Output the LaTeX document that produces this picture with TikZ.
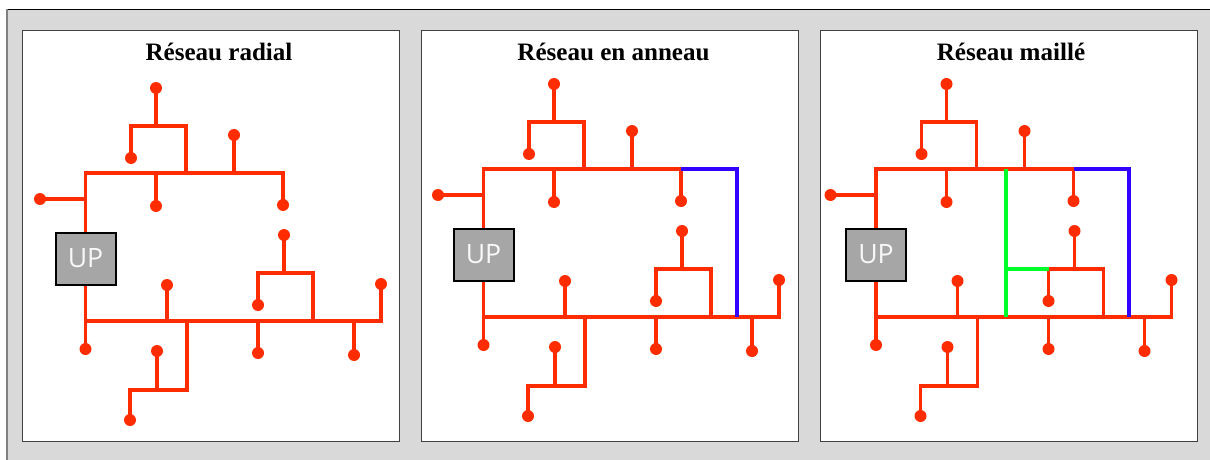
\documentclass[tikz,border=0pt]{standalone}
\usepackage{fontspec}
\setmainfont{Liberation Serif}
\newfontfamily\upfont{Open Sans}
\definecolor{rouge}{HTML}{FF2C00}
\definecolor{bleu}{HTML}{3300FF}
\definecolor{vert}{HTML}{00FF2A}
\definecolor{fond}{HTML}{D9D9D9}
\definecolor{boite}{HTML}{A6A6A6}
\begin{document}
\begin{tikzpicture}[
	x=.75pt,y=-.75pt,
	ligne/.style={draw=rouge,line width=2.4pt},
	secours/.style={draw=bleu,line width=2.4pt},
	maille/.style={draw=vert,line width=2.4pt},
	charge/.style={circle,fill=rouge,inner sep=0pt,outer sep=-1pt,minimum size=9pt},
	titre/.style={font=\bfseries\fontsize{18.8}{20}\selectfont,inner sep=0pt},
	up/.style={draw=black,line width=1.5pt,fill=boite,text=white!92!boite,minimum width=45pt,minimum height=39pt,inner sep=0pt,font=\upfont\fontsize{20}{24}\selectfont},
	cadre/.style={draw=black!75,line width=.6pt,fill=white}]
\useasboundingbox (0,0) rectangle (1210,460);
\fill[fond] (7,9) rectangle (1210,460);
\draw[black,line width=.7pt] (7,9) -- (1210,9);
\draw[black!50,line width=.9pt] (7,9) -- (7,460);
\foreach \n/\px/\dx/\dy/\tx/\texte in {
	a/22/0/0/219/Réseau radial,
	b/421/398/-4/613.5/Réseau en anneau,
	c/820/790.5/-4/1011/Réseau maillé}{
	\draw[cadre] (\px,30) rectangle ++(377,411);
	\node[titre] (\n-titre) at (\tx,52) {\texte};
	\begin{scope}[shift={(\dx,\dy)},name prefix=\n-]
		\node[up] (up) at (85.5,258.5) {UP};
		% jonctions
		\coordinate (h0) at (85.5,173);
		\coordinate (h1) at (156,173);
		\coordinate (h2) at (186,173);
		\coordinate (h3) at (234,173);
		\coordinate (h4) at (283,173);
		\coordinate (g) at (85.5,199);
		\coordinate (p0) at (131,126);
		\coordinate (p1) at (156,126);
		\coordinate (p2) at (186,126);
		\coordinate (b0) at (85.5,321);
		\coordinate (b1) at (167,321);
		\coordinate (b2) at (187,321);
		\coordinate (b3) at (258,321);
		\coordinate (b4) at (313,321);
		\coordinate (b5) at (354,321);
		\coordinate (b6) at (381,321);
		\coordinate (q0) at (258,273);
		\coordinate (q1) at (284,273);
		\coordinate (q2) at (313,273);
		\coordinate (r0) at (130,390);
		\coordinate (r1) at (157,390);
		\coordinate (r2) at (187,390);
		% charges
		\foreach \c/\cx/\cy in {d1/156/88,d2/131/158,d3/234/135,d4/156/206,d5/283/205,
			d6/40/199,d7/85.5/349,d8/167/285,d9/284/235,d10/258/305,d11/381/284,
			d12/258/353,d13/354/355,d14/157/351,d15/130/420}
			\node[charge] (\c) at (\cx,\cy) {};
		\draw[ligne] (up) -- (h0) -- (h4) -- (d5);
		\draw[ligne] (g) -- (d6);
		\draw[ligne] (h1) -- (d4);
		\draw[ligne] (h3) -- (d3);
		\draw[ligne] (h2) -- (p2) -- (p0) -- (d2);
		\draw[ligne] (p1) -- (d1);
		\draw[ligne] (up) -- (d7);
		\draw[ligne] (b0) -- (b6) -- (d11);
		\draw[ligne] (b1) -- (d8);
		\draw[ligne] (b3) -- (d12);
		\draw[ligne] (b5) -- (d13);
		\draw[ligne] (b4) -- (q2) -- (q0) -- (d10);
		\draw[ligne] (q1) -- (d9);
		\draw[ligne] (b2) -- (r2) -- (r0) -- (d15);
		\draw[ligne] (r1) -- (d14);
	\end{scope}
}
% liaisons de secours
\coordinate (b-angle) at (737,169);
\coordinate (b-pied) at (737,317);
\coordinate (c-angle) at (1129,169);
\coordinate (c-pied) at (1129,317);
\draw[secours] (b-h4) -- (b-angle) -- (b-pied);
\draw[secours] (c-h4) -- (c-angle) -- (c-pied);
\coordinate (c-v0) at (1006,169);
\coordinate (c-v1) at (1006,269);
\coordinate (c-v2) at (1006,317);
\draw[maille] (c-v0) -- (c-v2);
\draw[maille] (c-v1) -- (c-q0);
\end{tikzpicture}
\end{document}
